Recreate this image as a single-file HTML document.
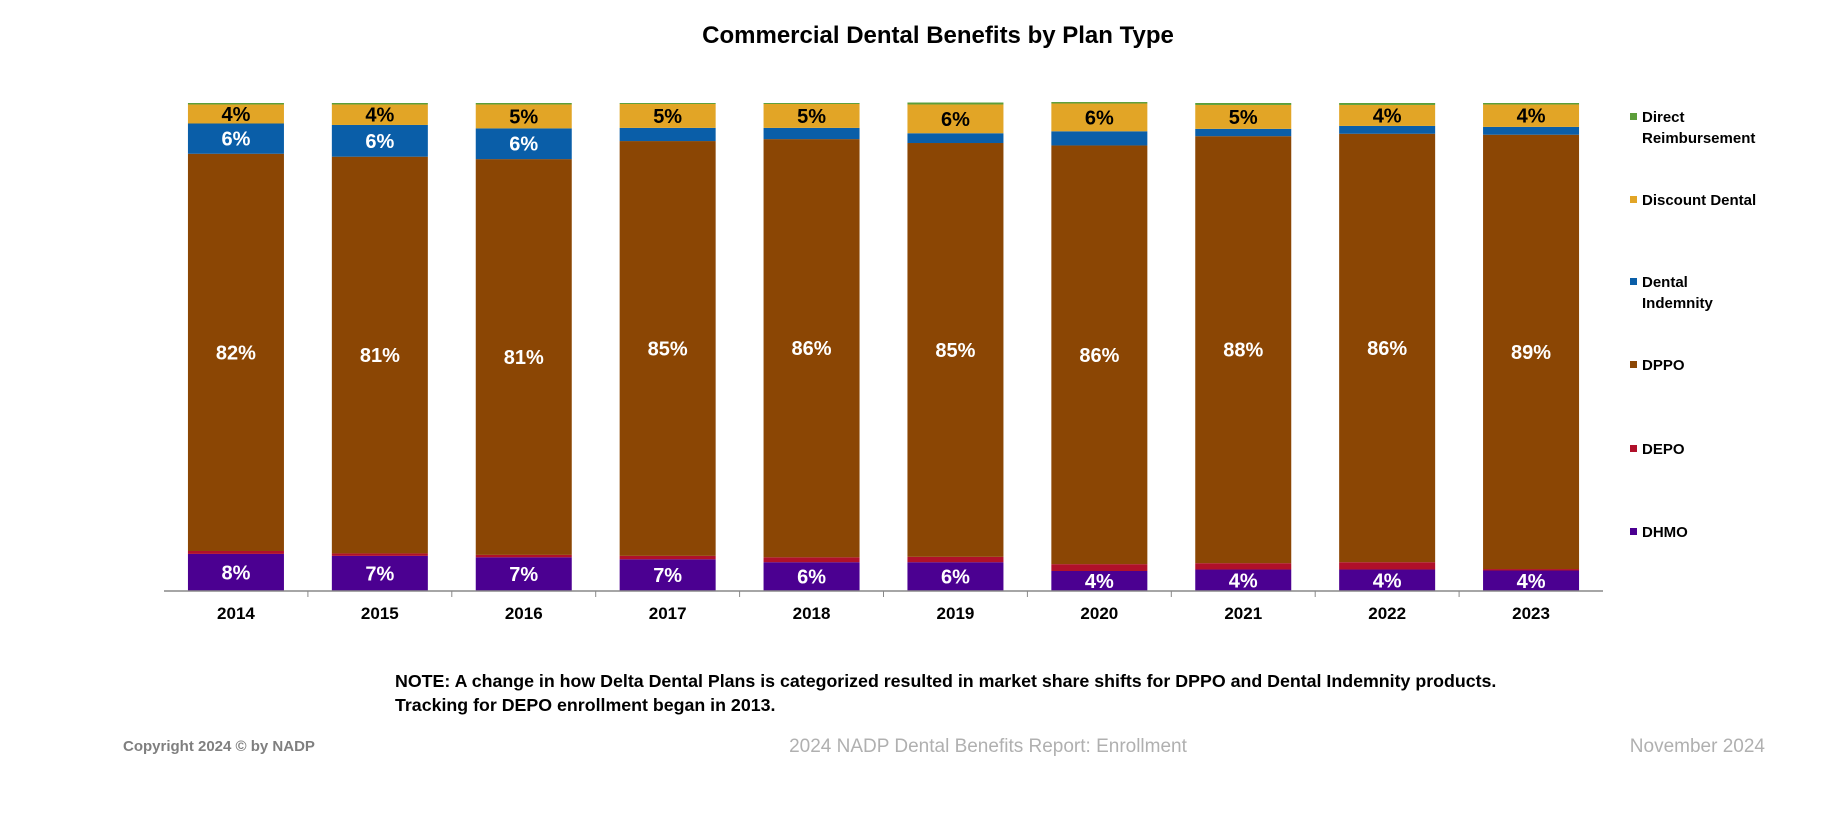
<!DOCTYPE html>
<html><head><meta charset="utf-8"><style>
body{margin:0;background:#fff;width:1838px;height:814px;overflow:hidden;font-family:"Liberation Sans",Arial,sans-serif}
svg{display:block}
</style></head><body>
<svg id="chart" width="1838" height="814">
<text x="938" y="43" text-anchor="middle" font-size="24" font-weight="bold" fill="#000">Commercial Dental Benefits by Plan Type</text>
<g id="bars"></g>
<line x1="164" y1="591" x2="1603" y2="591" stroke="#888" stroke-width="1.5"/>
<g id="xlabels"></g>
<g id="legend"></g>
<text x="395" y="687" font-size="17.8" font-weight="bold" fill="#000">NOTE: A change in how Delta Dental Plans is categorized resulted in market share shifts for DPPO and Dental Indemnity products.</text>
<text x="395" y="711" font-size="17.8" font-weight="bold" fill="#000">Tracking for DEPO enrollment began in 2013.</text>
<text x="123" y="751" font-size="15" font-weight="bold" fill="#7f7f7f">Copyright 2024 © by NADP</text>
<text x="988" y="752" text-anchor="middle" font-size="19" fill="#b0b0b0">2024 NADP Dental Benefits Report: Enrollment</text>
<text x="1765" y="752" text-anchor="end" font-size="19" fill="#b0b0b0">November 2024</text>
</svg>
<script>
const years=["2014","2015","2016","2017","2018","2019","2020","2021","2022","2023"];
const dhmo=[7.6,7.2,6.9,6.5,5.9,5.9,4.1,4.4,4.4,4.2];
const depo=[0.6,0.5,0.5,0.7,1.0,1.1,1.4,1.3,1.5,0.3];
const dppo=[81.4,81.3,81.1,85.0,85.7,84.8,85.8,87.5,87.8,89.0];
const indemnity=[6.2,6.5,6.3,2.7,2.3,2.0,2.9,1.5,1.6,1.6];
const discount=[3.9,4.2,4.9,4.9,4.9,5.9,5.7,4.9,4.3,4.6];
const direct=[0.3,0.3,0.3,0.2,0.2,0.4,0.3,0.4,0.4,0.3];
const dhmoLabels=["8%","7%","7%","7%","6%","6%","4%","4%","4%","4%"];
const dppoLabels=["82%","81%","81%","85%","86%","85%","86%","88%","86%","89%"];
const indemnityLabels=["6%","6%","6%",null,null,null,null,null,null,null];
const discountLabels=["4%","4%","5%","5%","5%","6%","6%","5%","4%","4%"];
const seriesNames=["DHMO","DEPO","DPPO","Dental Indemnity","Discount Dental","Direct Reimbursement"];
const NS="http://www.w3.org/2000/svg";
const series=[
 {key:"dhmo",vals:dhmo,color:"#4B0091",labels:dhmoLabels,lc:"#fff"},
 {key:"depo",vals:depo,color:"#B0102A",labels:null},
 {key:"dppo",vals:dppo,color:"#8B4604",labels:dppoLabels,lc:"#fff"},
 {key:"indemnity",vals:indemnity,color:"#0A5EA8",labels:indemnityLabels,lc:"#fff"},
 {key:"discount",vals:discount,color:"#E2A526",labels:discountLabels,lc:"#000"},
 {key:"direct",vals:direct,color:"#5C9E3A",labels:null}
];
const y0=591,y1=103;
function yScale(v){return y0-(v/100)*(y0-y1);}
const pitch=(1603-164)/years.length;
function xCenter(i){return 164+pitch*(i+0.5);}
const bw=96;
const gB=document.getElementById('bars');
years.forEach((yr,i)=>{
 let cum=0;
 series.forEach(s=>{
  const v=s.vals[i];
  const top=yScale(cum+v),bot=yScale(cum);
  const r=document.createElementNS(NS,'rect');
  r.setAttribute('x',xCenter(i)-bw/2);r.setAttribute('y',top);
  r.setAttribute('width',bw);r.setAttribute('height',Math.max(bot-top,0));
  r.setAttribute('fill',s.color);
  
  
  gB.appendChild(r);
  if(s.labels&&s.labels[i]){
   const t=document.createElementNS(NS,'text');
   t.setAttribute('x',xCenter(i));t.setAttribute('y',(top+bot)/2+7);
   t.setAttribute('text-anchor','middle');t.setAttribute('font-size','20');
   t.setAttribute('font-weight','bold');t.setAttribute('fill',s.lc);
   t.textContent=s.labels[i];
   
   
   gB.appendChild(t);
  }
  cum+=v;
 });
});
const gX=document.getElementById('xlabels');
years.forEach((yr,i)=>{
 const t=document.createElementNS(NS,'text');
 t.setAttribute('x',xCenter(i));t.setAttribute('y',619);
 t.setAttribute('text-anchor','middle');t.setAttribute('font-size','17');t.setAttribute('font-weight','bold');
 t.textContent=yr;
 
 
 gX.appendChild(t);
 if(i>0){const l=document.createElementNS(NS,'line');
 const x=164+pitch*i;l.setAttribute('x1',x);l.setAttribute('x2',x);l.setAttribute('y1',591);l.setAttribute('y2',597);l.setAttribute('stroke','#888');
 
 
 gX.appendChild(l);}
});
const legend=[
 {lines:["Direct","Reimbursement"],color:"#5C9E3A",y:122},
 {lines:["Discount Dental"],color:"#E2A526",y:205},
 {lines:["Dental","Indemnity"],color:"#0A5EA8",y:287},
 {lines:["DPPO"],color:"#8B4604",y:370},
 {lines:["DEPO"],color:"#B0102A",y:454},
 {lines:["DHMO"],color:"#4B0091",y:537}
];
const gL=document.getElementById('legend');
legend.forEach(e=>{
 const g=document.createElementNS(NS,'g');
 
 
 const r=document.createElementNS(NS,'rect');
 r.setAttribute('x',1630);r.setAttribute('y',e.y-9);r.setAttribute('width',7);r.setAttribute('height',7);r.setAttribute('fill',e.color);
 g.appendChild(r);
 e.lines.forEach((ln,k)=>{
  const t=document.createElementNS(NS,'text');
  t.setAttribute('x',1642);t.setAttribute('y',e.y+k*21);t.setAttribute('font-size','15');t.setAttribute('font-weight','bold');
  t.textContent=ln;g.appendChild(t);
 });
 gL.appendChild(g);
});
</script>
</body></html>
